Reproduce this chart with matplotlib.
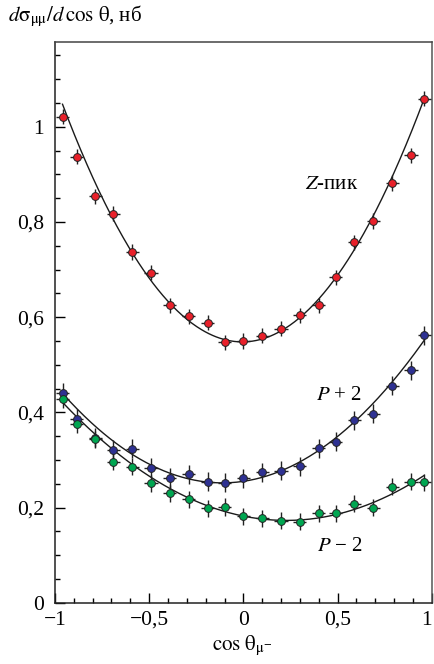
import numpy as np
import matplotlib
matplotlib.use("Agg")
import matplotlib.pyplot as plt
from matplotlib.ticker import MultipleLocator, FixedLocator, FixedFormatter

plt.rcParams['font.family'] = ['Liberation Serif', 'DejaVu Serif']
plt.rcParams['mathtext.fontset'] = 'stix'

# ---- data ----
x_centers = [-0.96, -0.885, -0.785, -0.69, -0.59, -0.49, -0.39, -0.29, -0.19, -0.10, 0.0,
             0.10, 0.20, 0.30, 0.40, 0.49, 0.59, 0.69, 0.79, 0.89, 0.96]
z_peak = [1.021, 0.937, 0.854, 0.817, 0.737, 0.693, 0.625, 0.602, 0.588, 0.547, 0.550,
          0.561, 0.576, 0.604, 0.625, 0.684, 0.757, 0.802, 0.882, 0.940, 1.059]
p_plus2 = [0.441, 0.387, 0.347, 0.321, 0.324, 0.284, 0.262, 0.270, 0.254, 0.252, 0.261,
           0.274, 0.277, 0.287, 0.325, 0.338, 0.383, 0.397, 0.456, 0.488, 0.562]
p_minus2 = [0.428, 0.375, 0.343, 0.296, 0.286, 0.251, 0.230, 0.217, 0.198, 0.201, 0.182,
            0.177, 0.172, 0.170, 0.188, 0.188, 0.208, 0.200, 0.244, 0.254, 0.253]
x_err = 0.035
z_yerr = 0.016
p_plus_yerr = 0.02
p_minus_yerr = 0.018

# fitted curves: y = c0 + c1*x + c2*x^2
z_fit = [0.548, 0.006, 0.548]
p_plus_fit = [0.255, 0.058, 0.261]
p_minus_fit = [0.182, -0.080, 0.176]
fit_range = [-0.96, 0.96]

x_ticks = [-1, -0.5, 0, 0.5, 1]
x_ticklabels = ['\u22121', '\u22120,5', '0', '0,5', '1']
y_ticks = [0, 0.2, 0.4, 0.6, 0.8, 1.0]
y_ticklabels = ['0', '0,2', '0,4', '0,6', '0,8', '1']

series = [
    (z_peak, z_yerr, z_fit, '#e8202a'),
    (p_plus2, p_plus_yerr, p_plus_fit, '#2e3192'),
    (p_minus2, p_minus_yerr, p_minus_fit, '#00a651'),
]

fig = plt.figure(figsize=(4.35, 6.64), dpi=100)
ax = fig.add_axes([0.1264, 0.0923, 0.9924 - 0.1264, 0.9367 - 0.0923])

xs = np.array(x_centers)
xfine = np.linspace(fit_range[0], fit_range[1], 300)
for vals, yerr, fit, col in series:
    c0, c1, c2 = fit
    ax.plot(xfine, c0 + c1 * xfine + c2 * xfine ** 2, color='#1a1a1a', lw=1.0, zorder=2)
    ax.errorbar(xs, vals, xerr=x_err, yerr=yerr, fmt='none', ecolor='#222222',
                elinewidth=1.0, capsize=0, zorder=3)
    ax.plot(xs, vals, 'o', ms=5.6, mfc=col, mec='#222222', mew=0.7, zorder=4)

ax.set_xlim(-1, 1)
ax.set_ylim(0, 1.178)

ax.xaxis.set_major_locator(FixedLocator(x_ticks))
ax.xaxis.set_major_formatter(FixedFormatter(x_ticklabels))
ax.xaxis.set_minor_locator(MultipleLocator(0.1))
ax.yaxis.set_major_locator(FixedLocator(y_ticks))
ax.yaxis.set_major_formatter(FixedFormatter(y_ticklabels))
ax.yaxis.set_minor_locator(MultipleLocator(0.05))

ax.tick_params(which='both', direction='in', top=False, right=False, width=1.0)
ax.tick_params(which='major', length=7, labelsize=15.5)
ax.tick_params(axis='y', which='major', pad=8)
ax.tick_params(axis='x', which='major', pad=6)
ax.tick_params(which='minor', length=3.5)
for sp in ax.spines.values():
    sp.set_linewidth(1.1)
    sp.set_color('#222222')
ax.spines['top'].set_color('#444444')
ax.spines['right'].set_color('#555555')

fig.canvas.draw()
ax.get_xticklabels()[-1].set_ha('right')

ax.text(0.327, 0.878, r'$Z$-пик', fontsize=15, va='center', ha='left')
ax.text(0.384, 0.436, r'$P$ + 2', fontsize=15, va='center', ha='left')
ax.text(0.389, 0.119, '$P$ \u2212 2', fontsize=15, va='center', ha='left')

fig.text(0.018, 0.975, r'$d\mathrm{\sigma}_{\mathrm{\mu\mu}}/d\,\mathrm{cos}\ \mathrm{\theta}$, нб',
         fontsize=15, va='center', ha='left')
fig.text(0.556, 0.028, r'$\mathrm{cos}\ \mathrm{\theta}_{\mathrm{\mu}^{\mathbf{-}}}$',
         fontsize=15, va='center', ha='center')

fig.savefig('out.png', dpi=100)
